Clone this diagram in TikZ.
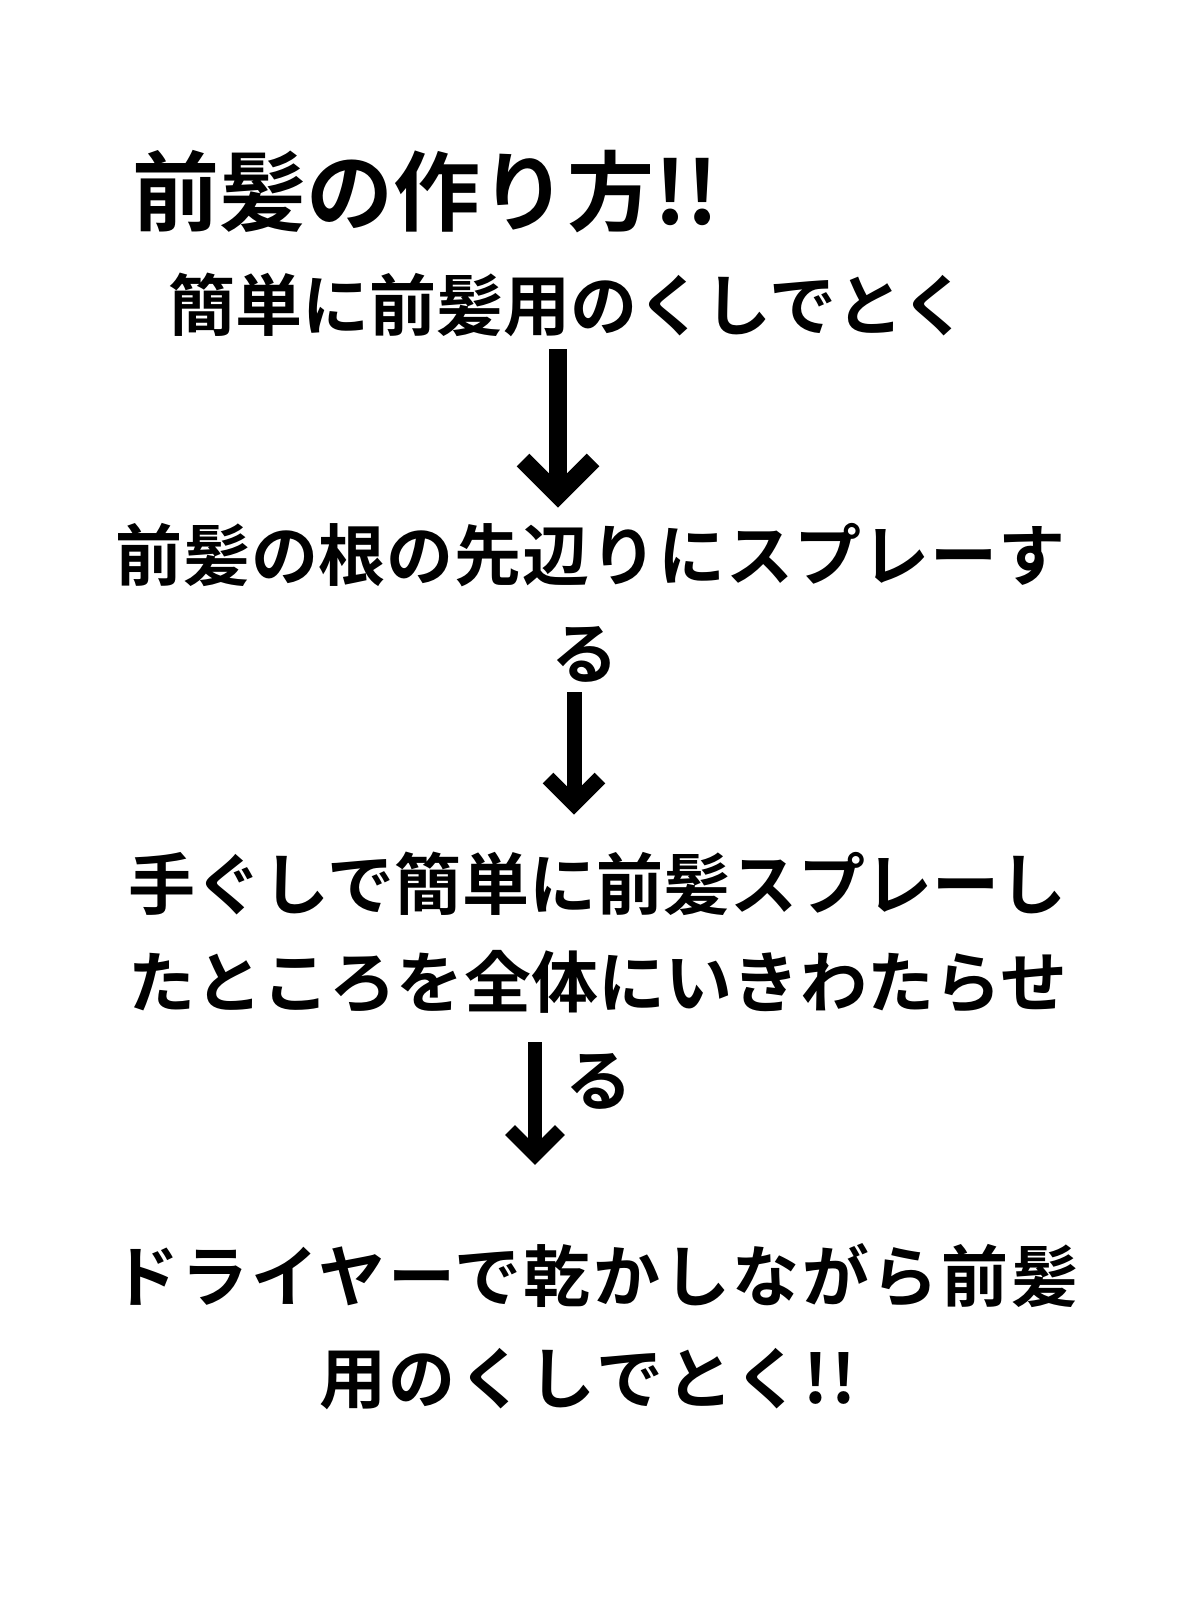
\documentclass[tikz,border=0pt]{standalone}
\usepackage{fontspec}
\newfontfamily\jp{Noto Sans CJK JP}[BoldFont={* Bold}]
\newcommand\trk[1]{\addfontfeatures{LetterSpace=#1}}
\begin{document}
\begin{tikzpicture}[x=1pt,y=-1pt,
  txt/.style={inner sep=0pt,anchor=base west,font=\jp\bfseries\fontsize{67}{80}\selectfont},
  one/.style={txt,anchor=base},
  ttl/.style={inner sep=0pt,anchor=base west,font=\jp\bfseries\fontsize{87}{100}\selectfont},
  shaft/.style={line width=#1, line cap=butt},
  chev/.style={line width=#1, line join=miter, line cap=butt}]
\useasboundingbox (0,0) rectangle (1200,1600);
\fill[white] (0,0) rectangle (1200,1600);
\node[ttl] (title) at (132,224) {前髪の作り方!!};
\node[txt] (s1) at (168,330) {簡単に前髪用のくしでとく};
\node[txt] (s2a) at (115,580) {\trk{1.4}前髪の根の先辺りにスプレーす};
\node[one] (s2b) at (585,678) {る};
\node[txt] (s3a) at (128,909) {\trk{0.3}手ぐしで簡単に前髪スプレーし};
\node[txt] (s3b) at (128,1007) {\trk{0.3}たところを全体にいきわたらせ};
\node[one] (s3c) at (599,1105) {る};
\node[txt] (s4a) at (112,1301) {\trk{3.9}ドライヤーで乾かしながら前髪};
\node[txt] (s4b) at (319,1403) {\trk{4.2}用のくしでとく!!};
% arrow 1
\coordinate (a1t) at (558,349);
\coordinate (a1v) at (558,495);
\coordinate (a1l) at (523,460);
\coordinate (a1r) at (593,460);
\draw[shaft=18pt] (a1t) -- (a1v);
\draw[chev=18pt] (a1l) -- (a1v) -- (a1r);
% arrow 2
\coordinate (a2t) at (574,692);
\coordinate (a2v) at (574,804);
\coordinate (a2l) at (548,778);
\coordinate (a2r) at (600,778);
\draw[shaft=15pt] (a2t) -- (a2v);
\draw[chev=15pt] (a2l) -- (a2v) -- (a2r);
% arrow 3
\coordinate (a3t) at (535,1042);
\coordinate (a3v) at (535,1155);
\coordinate (a3l) at (510,1130);
\coordinate (a3r) at (560,1130);
\draw[shaft=14pt] (a3t) -- (a3v);
\draw[chev=14pt] (a3l) -- (a3v) -- (a3r);
\end{tikzpicture}
\end{document}
